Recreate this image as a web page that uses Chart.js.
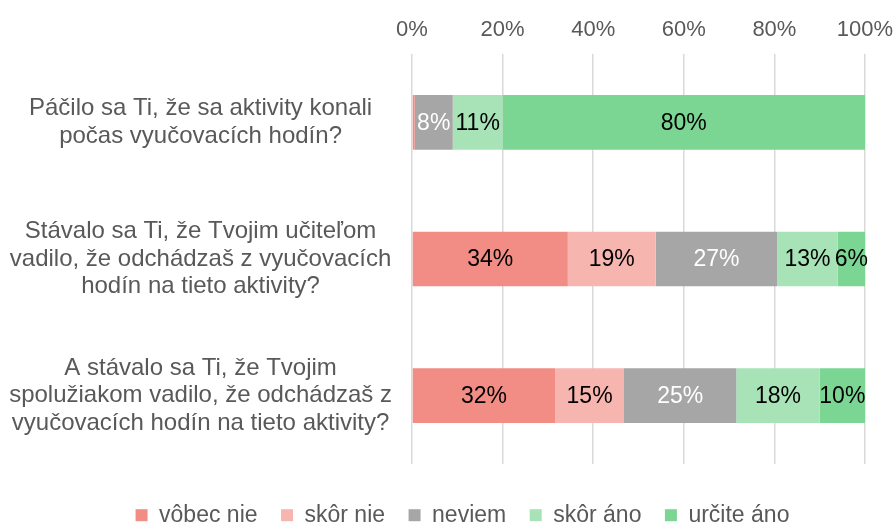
<!DOCTYPE html>
<html>
<head>
<meta charset="utf-8">
<script src="https://cdn.jsdelivr.net/npm/chart.js@4/dist/chart.umd.min.js"></script>
<style>
    html, body { margin: 0; padding: 0; background: #fff; }
    #obal { width: 896px; height: 524px; }
</style>
</head>
<body>
<div id="obal"><canvas id="grafico"></canvas></div>
<script>
// otazky (kategorie), kazda rozdelena na riadky
const otazky = [
    ["Páčilo sa Ti, že sa aktivity konali", "počas vyučovacích hodín?"],
    ["Stávalo sa Ti, že Tvojim učiteľom", "vadilo, že odchádzaš z vyučovacích", "hodín na tieto aktivity?"],
    ["A stávalo sa Ti, že Tvojim", "spolužiakom vadilo, že odchádzaš z", "vyučovacích hodín na tieto aktivity?"]
];
const odpovede = ["vôbec nie", "skôr nie", "neviem", "skôr áno", "určite áno"];

// podiely v % (odcitane z obrazka)
const vobecNie  = [0.6, 34.4, 31.6];
const skorNie   = [0,   19.4, 15.2];
const neviem    = [8.4, 26.8, 24.8];
const skorAno   = [11,  13.4, 18.4];
const urciteAno = [80,  6,    10];

const osX = [0, 20, 40, 60, 80, 100];

const farby = ["#F28D85", "#F7B5B0", "#A6A6A6", "#A7E3B7", "#7BD694"];
const farbyTextu = ["#000", "#000", "#fff", "#000", "#000"];
const pismo = '"Liberation Sans", Arial, sans-serif';
const sedaPismo = "#595959";

Chart.defaults.font.family = pismo;
Chart.defaults.color = sedaPismo;

// popisky hodnot v strede segmentov + uprava legendy
const popisky = {
    id: "popisky",
    beforeInit(chart) {
        // legenda ma pevnu vysku
        let povodnyFit = chart.legend.fit;
        chart.legend.fit = function() {
            povodnyFit.call(this);
            this.height = 60;
        };
    },
    afterLayout(chart) {
        chart.legend.left += 26;
        chart.legend.right += 26;
    },
    afterDatasetsDraw(chart) {
        let ctx = chart.ctx;
        ctx.save();
        ctx.font = "23px " + pismo;
        ctx.textAlign = "center";
        ctx.textBaseline = "middle";
        chart.data.datasets.forEach(function(ds, i) {
            chart.getDatasetMeta(i).data.forEach(function(bar, j) {
                let v = ds.data[j];
                if (v < 3) return;
                let p = bar.getCenterPoint();
                ctx.fillStyle = farbyTextu[i];
                ctx.fillText(Math.round(v) + "%", p.x, p.y + 1);
            });
        });
        ctx.restore();
    }
};

const serie = [vobecNie, skorNie, neviem, skorAno, urciteAno];

let g = document.getElementById("grafico").getContext("2d");
let graficoChart = new Chart(g, {
    type: "bar",
    data: {
        labels: otazky,
        datasets: serie.map(function(d, i) {
            return {
                label: odpovede[i],
                data: d,
                backgroundColor: farby[i],
                borderWidth: 0,
                barPercentage: 0.4,
                categoryPercentage: 1
            };
        })
    },
    options: {
        indexAxis: "y",
        responsive: true,
        maintainAspectRatio: false,
        animation: false,
        layout: {
            padding: { top: 0, left: 8, right: 31, bottom: 0 }
        },
        scales: {
            x: {
                position: "top",
                stacked: true,
                min: 0,
                max: 100,
                afterBuildTicks: function(s) {
                    s.ticks = osX.map(v => ({ value: v }));
                },
                afterFit: function(s) {
                    s.height = 54;
                    s.paddingLeft = 0;
                    s.paddingRight = 0;
                },
                grid: { color: "#D9D9D9", lineWidth: 1.5, drawTicks: false },
                border: { display: false },
                ticks: {
                    padding: 11,
                    color: sedaPismo,
                    font: { size: 22 },
                    callback: v => v + "%"
                }
            },
            y: {
                stacked: true,
                grid: { display: false },
                border: { display: false },
                afterFit: function(s) {
                    s.width = 404;
                    s.paddingTop = 0;
                    s.paddingBottom = 0;
                },
                ticks: {
                    crossAlign: "center",
                    padding: 12,
                    color: sedaPismo,
                    font: { size: 24, lineHeight: 1.15 }
                }
            }
        },
        plugins: {
            legend: {
                position: "bottom",
                title: { display: true, text: "", padding: { top: 0, bottom: 15 }, font: { size: 1 } },
                labels: {
                    boxWidth: 12,
                    boxHeight: 12,
                    padding: 23.5,
                    color: sedaPismo,
                    font: { size: 23 }
                }
            },
            tooltip: { enabled: false }
        }
    },
    plugins: [popisky]
});
</script>
</body>
</html>
